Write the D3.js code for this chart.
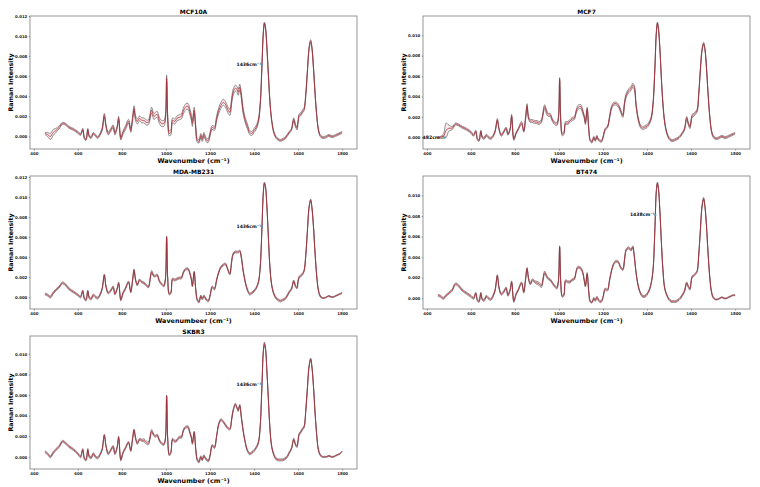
<!DOCTYPE html>
<html><head><meta charset="utf-8">
<script src="https://cdn.jsdelivr.net/npm/d3@7"></script>
<style>
body{margin:0;background:#fff}
svg{display:block;font-family:"DejaVu Sans",sans-serif}
</style>
</head><body>
<svg id="c" width="760" height="487"></svg>
<script>
// ---------- DATA (intensities in units of 1e-4) ----------
const UNIT = 1e-4;
const wavenumbers = [
 450,462,475,488,500,515,530,545,560,580,
 600,612,622,630,637,645,652,660,670,680,
 690,700,710,720,728,738,748,760,768,778,
 785,795,805,815,830,840,848,855,862,870,
 880,890,900,910,920,935,945,952,960,970,
 980,990,997,1003,1008,1015,1022,1030,1040,1050,
 1060,1070,1078,1085,1092,1100,1108,1115,1120,1128,
 1135,1142,1150,1158,1165,1172,1178,1185,1192,1200,
 1210,1220,1230,1240,1250,1260,1270,1280,1290,1298,
 1305,1315,1322,1328,1335,1342,1350,1360,1370,1380,
 1390,1400,1410,1420,1428,1436,1442,1447,1452,1458,
 1465,1472,1480,1490,1500,1510,1520,1530,1540,1550,
 1560,1570,1580,1588,1595,1600,1605,1612,1620,1627,
 1635,1642,1650,1657,1663,1670,1677,1685,1692,1700,
 1710,1720,1730,1740,1750,1760,1770,1780,1790,1800];

const titles = ["MCF10A","MCF7","MDA-MB231","BT474","SKBR3"];
const xLabels = ["Wavenumber (cm⁻¹)","Wavenumber (cm⁻¹)","Wavenumbeer (cm⁻¹)","Wavenumber (cm⁻¹)","Wavenumber (cm⁻¹)"];
const yLabel = "Raman Intensity";
const xTicks = [400,600,800,1000,1200,1400,1600,1800];
const yTicks = [0,0.002,0.004,0.006,0.008,0.010,0.012];

const meanMCF10A = [
 3,2,0,4,6,9,13,12,9,7,
 4,2,7,-2,-3,7,0,-1,3,1,
 -1,2,7,21,10,3,6,10,3,9,
 18,-2,4,8,15,6,17,28,18,15,
 18,16,16,14,14,26,20,21,22,16,
 13,13,18,58,18,3,4,16,15,18,
 19,20,25,28,30,30,25,19,13,26,
 9,-4,-5,1,-3,2,-1,-4,-4,2,
 9,8,18,26,31,34,32,27,24,35,
 44,48,47,44,49,41,26,16,10,4,
 3,6,9,16,32,71,103,113,108,90,
 62,35,16,4,-1,-3,-4,-3,-2,1,
 4,7,17,11,8,15,21,22,25,27,
 42,64,88,95,88,68,43,20,7,1,
 -1,-1,0,1,0,0,1,2,3,4];
const stdMCF10A = [
 1,2,3,3,2,1.5,1,1,1,1,
 1,1,1,1,1,1,1,1,1,1,
 1,1,1.5,2,1.5,1.5,1.5,1.5,1.5,1.5,
 2,1.5,1.5,2,2,2,2,2.5,2.5,2.5,
 2.5,2.5,2.5,2.5,2.5,3,3,3,3,3,
 3,3,3,3,3,2.5,2.5,2.5,2.5,2.5,
 2.5,2.5,3,3,3,3,3,3,3,3,
 2.5,2,1.5,2,2,2,2,2,2,2,
 2,2,2.5,3,3,3,3,3,3,3,
 3,3,3,3,3,3,3,2.5,2.5,2,
 2,2,2,2,2,2,1.5,1,1.5,2,
 1.5,1.5,1,1,1,1,1,1,1,1,
 1,1,1.5,1.5,1.5,1.5,1.5,1.5,1.5,1.5,
 1.5,1.5,1.5,1.5,1.5,1.5,1.5,1,1,1,
 1,1,1,1,1,1,1,1,1,1];

const meanMCF7 = [
 0,0,1,7,9,9,13,12,10,8,
 5,2,6,-2,-3,6,0,-1,2,0,
 -1,1,6,17,8,2,5,9,3,8,
 21,-2,4,8,14,6,18,31,19,16,
 16,15,15,14,16,30,24,22,22,17,
 14,13,18,57,17,3,4,14,14,16,
 18,19,25,29,30,30,25,20,14,28,
 9,-3,-4.5,0,-3,1,-2,-3,-4,0,
 8,10,20,30,33,33,31,26,21,34,
 41,45,47,48,51,49,32,18,11,9,
 10,11,14,20,35,70,102,112,106,88,
 58,33,15,4,-1,-3,-3,-2,-1,1,
 4,8,19,13,10,16,21,22,24,26,
 43,66,86,92,86,68,43,20,7,1,
 -1,-1,0,1,0,0,1,2,3,4];
const stdMCF7 = [
 0.5,1,2,7,3,1.5,1,1,1,1,
 1,1,1,1,1,1,1,1,1,1,
 1,1,1,1.5,1,1,1,1,1,1,
 1.5,1,1,1,1.5,1,1.5,2,1.5,1.5,
 1.5,1.5,1.5,1.5,1.5,2,2,1.5,1.5,1.5,
 1.5,1.5,1.5,1.5,1.5,1.5,1.5,1.5,1.5,1.5,
 1.5,1.5,1.5,2,2,2,2,1.5,1.5,1.5,
 1.5,1,1,1,1,1,1,1,1,1,
 1,1,1.5,1.5,1.5,1.5,1.5,1.5,1.5,1.5,
 2,2,2,2,2,2,2,1.5,1.5,1.5,
 1.5,1.5,1.5,1.5,1.5,1.5,1.5,1,1,1,
 1,1,1,1,1,1,1,1,1,1,
 1,1,1.5,1.5,1.5,1.5,1.5,1.5,1.5,1.5,
 1.5,1.5,1.5,1,1,1,1,1,1,1,
 1,1,1,1,1,1,1,1,1,1];

const meanMDAMB231 = [
 3,2,0,4,7,10,14,12,8,5,
 2,0,6,-2,-3,6,-1,-2,2,0,
 -1,2,8,22,10,4,6,10,3,8,
 14,-3,4,8,15,5,16,27,17,12,
 17,15,14,12,10,25,21,21,22,16,
 13,11,17,60,18,3,4,18,17,18,
 19,19,24,27,28,28,24,18,11,25,
 8,-3,-5,1,-2,1,-1,-3,-4,1,
 10,8,17,25,30,32,33,28,23,35,
 43,45,45,45,46,40,27,15,7,3,
 4,6,9,15,30,70,104,114,110,92,
 60,30,12,3,-1,-3,-4,-3,-2,1,
 5,8,16,11,9,16,20,21,23,26,
 42,65,90,97,89,70,44,20,7,1,
 -1,-1,0,1,0,0,1,2,3,4];
const stdMDAMB231 = [
 1,1,1,1,1,1,1,1,1,1,
 1,1,1,1,1,1,1,1,1,1,
 1,1,1,1,1,1,1,1,1,1,
 1,1,1,1,1,1,1,1,1,1,
 1,1,1,1,1,1.5,1,1,1,1,
 1,1,1,1,1,1,1,1,1,1,
 1,1,1,1,1,1,1,1,1,1,
 1,1,1,1,1,1,1,1,1,1,
 1,1,1,1,1,1,1,1,1,1,
 1,1,1,1,1,1,1,1,1,1,
 1,1,1,1,1,1,1,1,1,1,
 1,1,1,1,1,1,1,1,1,1,
 1,1,1,1,1,1,1,1,1,1,
 1,1,1,1,1,1,1,1,1,1,
 0.5,0.5,0.5,0.5,0.5,0.5,0.5,0.5,0.5,0.5];

const meanBT474 = [
 3,2,0,3,5,8,14,12,8,5,
 2,0,5,-2,-3,5,-1,-2,2,0,
 -1,2,8,22,10,4,6,10,3,8,
 16,-3,4,8,15,6,18,29,19,14,
 18,16,15,14,12,25,21,19,18,15,
 12,10,16,50,16,2,3,17,16,16,
 18,19,26,30,30,29,25,17,12,24,
 7,-3,-4,0,-2,1,-1,-3,-3,1,
 9,8,18,28,34,36,35,30,28,38,
 47,49,48,47,50,41,25,12,5,2,
 2,4,8,16,30,70,104,112,106,86,
 55,28,10,3,-1,-3,-3,-3,-2,0,
 3,7,15,11,9,16,21,22,24,26,
 43,66,90,97,89,70,44,20,7,1,
 -1,-1,0,1,0,0,1,2,3,3];
const stdBT474 = [
 1,1,1,1,1,1,1,1,1,1,
 1,1,1,1,1,1,1,1,1,1,
 1,1,1,1,1,1,1,1,1,1,
 1,1,1,1,1,1,1,1,1,1,
 1,1,1.5,1.5,1.5,1.5,1,1,1,1,
 1,1,1,1,1,1,1,1,1,1,
 1,1,1,1,1,1,1,1,1,1,
 1,1,0.5,1,1,1,1,1,1,1,
 1,1,1,1,1,1,1,1,1,1,
 1,1,1,1,1,1,1,1,1,1,
 1,1,1,1,1,1,1,1,1,1,
 1,1,1,1,1,1,1,1,1,1,
 1,1,1,1,1,1,1,1,1,1,
 1,1,1,1,1,1,1,1,1,1,
 0.5,0.5,0.5,0.5,0.5,0.5,0.5,0.5,0.5,0.5];

const meanSKBR3 = [
 5,3,0,4,7,10,15,13,10,7,
 3,0,7,-2,-3,7,0,-1,3,0,
 -1,2,7,21,10,3,6,10,3,9,
 19,-3,4,8,14,6,17,26,18,13,
 17,16,16,14,13,25,21,20,21,16,
 13,12,17,59,17,2,4,17,15,16,
 19,19,25,28,29,29,24,19,13,24,
 8,-3,-5,0,-3,1,-1,-3,-4,1,
 11,9,20,32,36,34,31,28,27,36,
 45,51,48,45,50,39,26,14,6,3,
 4,6,9,14,30,70,102,110,105,85,
 56,28,10,2,-2,-3,-3,-3,-2,0,
 4,8,17,12,10,16,22,24,27,29,
 45,66,88,95,87,68,43,20,7,2,
 0,0,0,1,0,0,1,2,3,5];
const stdSKBR3 = [
 1,1,1,1,1,1,1,1,1,1,
 1,1,1,1,1,1,1,1,1,1,
 1,1,1,1,1,1,1,1,1,1,
 1,1,1,1,1,1,1,1,1,1,
 1,1,1.5,1.5,1.5,1.5,1,1,1,1,
 1,1,1,1,1,1,1,1,1,1,
 1,1,1,1,1,1,1,1,1,1,
 1,1,1,1,1,1,1,1,1,1,
 1,1,1,1,1,1,1,1,1,1,
 1,1,1,1,1,1,1,1,1,1,
 1,1,1,1,1,1,1,1.5,1,1,
 1,1,1,1,1,1,1,1,1,1,
 1,1,1,1,1,1,1,1,1,1,
 1,1,1,1,1,1,1,1,1,1,
 0.5,0.5,0.5,0.5,0.5,0.5,0.5,0.5,0.5,0.5];

const annotWave  = [1436, 482, 1436, 1438, 1436];
const annotValue = [0.0071, 0.0000, 0.0070, 0.0081, 0.0070];
const annotText  = ["1436cm⁻¹","482cm⁻¹","1436cm⁻¹","1438cm⁻¹","1436cm⁻¹"];

// ---------- LAYOUT ----------
const means = [meanMCF10A, meanMCF7, meanMDAMB231, meanBT474, meanSKBR3];
const stds  = [stdMCF10A, stdMCF7, stdMDAMB231, stdBT474, stdSKBR3];
const frames = [{x:30,y:16},{x:423,y:16},{x:30,y:176},{x:423,y:176},{x:30,y:336}];
const W = 327, H = 133;

const svg = d3.select("#c");
svg.append("rect").attr("width",760).attr("height",487).attr("fill","#fff");

titles.forEach((title, i) => {
  const f = frames[i];
  const n = Math.min(wavenumbers.length, means[i].length, stds[i].length);
  const pts = d3.range(n).map(k => ({w: wavenumbers[k], m: means[i][k]*UNIT, s: stds[i][k]*UNIT}));
  const lo = d3.min(pts, d => d.m - d.s), hi = d3.max(pts, d => d.m + d.s);
  const xe = d3.extent(pts, d => d.w), xm = (xe[1]-xe[0])*0.05, ym = (hi-lo)*0.05;
  const x = d3.scaleLinear().domain([xe[0]-xm, xe[1]+xm]).range([f.x, f.x+W]);
  const y = d3.scaleLinear().domain([lo-ym, hi+ym]).range([f.y+H, f.y]);
  const g = svg.append("g");

  const curve = d3.curveCatmullRom.alpha(0.5);
  g.append("path").datum(pts)
    .attr("d", d3.area().x(d=>x(d.w)).y0(d=>y(d.m-d.s)).y1(d=>y(d.m+d.s)).curve(curve))
    .attr("fill","rgba(235,160,160,0.22)");
  [-1, 1].forEach(sg => {
    g.append("path").datum(pts)
      .attr("d", d3.line().x(d=>x(d.w)).y(d=>y(d.m+sg*d.s)).curve(curve))
      .attr("fill","none").attr("stroke","#2a2a2a").attr("stroke-width",0.55).attr("stroke-opacity",0.9);
  });
  g.append("path").datum(pts)
    .attr("d", d3.line().x(d=>x(d.w)).y(d=>y(d.m)).curve(curve))
    .attr("fill","none").attr("stroke","#b02a38").attr("stroke-width",0.8);

  // frame
  g.append("rect").attr("x",f.x).attr("y",f.y).attr("width",W).attr("height",H)
    .attr("fill","none").attr("stroke","#8a8a8a").attr("stroke-width",0.9);

  // axes
  const yt = yTicks.filter(v => v >= y.domain()[0] && v <= y.domain()[1]);
  const ax = g.append("g").attr("transform",`translate(0,${f.y+H})`)
    .call(d3.axisBottom(x).tickValues(xTicks).tickFormat(d3.format("d")).tickSize(1.5).tickPadding(2.2));
  const ay = g.append("g").attr("transform",`translate(${f.x},0)`)
    .call(d3.axisLeft(y).tickValues(yt).tickFormat(d3.format(".3f")).tickSize(1.2).tickPadding(1.5));
  [ax, ay].forEach(a => {
    a.select(".domain").remove();
    a.selectAll("line").attr("stroke","#444").attr("stroke-width",0.5);
    a.selectAll("text").attr("font-size",3.9).attr("font-weight","bold")
      .attr("font-family","DejaVu Sans").attr("fill","#222");
  });

  // titles and labels
  g.append("text").attr("x", f.x+W/2).attr("y", f.y-2).attr("text-anchor","middle")
    .attr("font-size",6).attr("font-weight","bold").text(title);
  g.append("text").attr("x", f.x+W/2).attr("y", f.y+H+13.5).attr("text-anchor","middle")
    .attr("font-size",6.4).attr("font-weight","bold").text(xLabels[i]);
  g.append("text").attr("transform",`translate(${f.x-17},${f.y+H/2}) rotate(-90)`)
    .attr("text-anchor","middle").attr("font-size",6.3).attr("font-weight","bold").text(yLabel);

  // annotation
  const ax0 = x(annotWave[i]), ay0 = y(annotValue[i]);
  g.append("text").attr("x", ax0-0.8).attr("y", ay0+1.2).attr("text-anchor","end")
    .attr("font-size",4.6).attr("font-weight","bold").attr("fill","#111").text(annotText[i]);
  g.append("circle").attr("cx",ax0).attr("cy",ay0).attr("r",1.1)
    .attr("fill","#4a90c8").attr("opacity",0.85);
});
</script>
</body></html>
